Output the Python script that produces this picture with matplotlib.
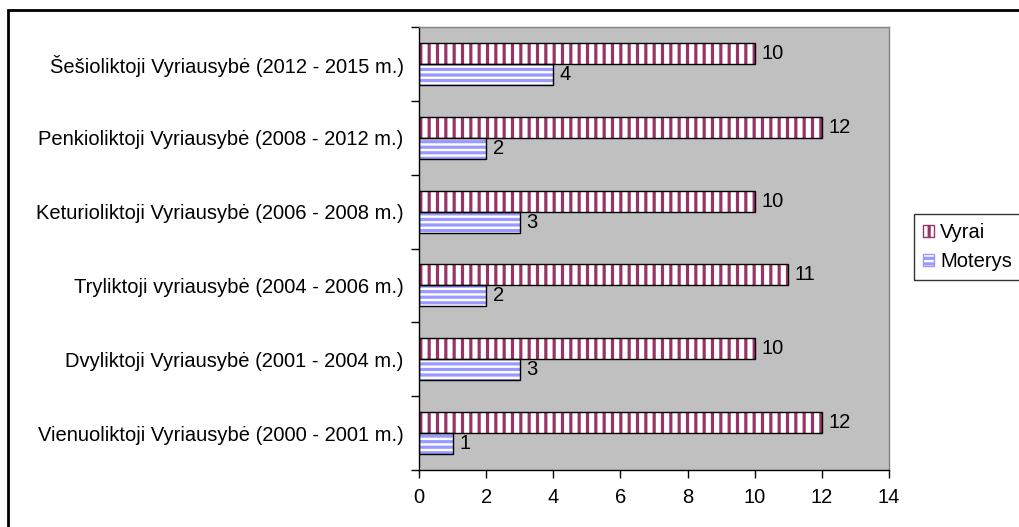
import matplotlib
matplotlib.use("Agg")
import matplotlib.pyplot as plt
from matplotlib.patches import Rectangle, Patch
import numpy as np

plt.rcParams['font.family'] = ['Liberation Sans', 'DejaVu Sans']
plt.rcParams['hatch.linewidth'] = 2.3

categories = [
    "Vienuoliktoji Vyriausybė (2000 - 2001 m.)",
    "Dvyliktoji Vyriausybė (2001 - 2004 m.)",
    "Tryliktoji vyriausybė (2004 - 2006 m.)",
    "Keturioliktoji Vyriausybė (2006 - 2008 m.)",
    "Penkioliktoji Vyriausybė (2008 - 2012 m.)",
    "Šešioliktoji Vyriausybė (2012 - 2015 m.)",
]
vyrai = [12, 10, 11, 10, 12, 10]
moterys = [1, 3, 2, 3, 2, 4]
xticks = [0, 2, 4, 6, 8, 10, 12, 14]

FS = 14.5
W, H = 1019, 527
fig = plt.figure(figsize=(W / 100, H / 100), dpi=100)
ax = fig.add_axes([419 / W, 1 - 470 / H, (889 - 419) / W, (470 - 27) / H])
ax.set_facecolor('#C0C0C0')

y = np.arange(len(categories))
bh = 0.285
ax.barh(y + bh / 2, vyrai, height=bh, color='white', edgecolor='#993366',
        hatch='||', linewidth=0)
ax.barh(y - bh / 2, moterys, height=bh, color='white', edgecolor='#9999FF',
        hatch='---', linewidth=0)
# black outlines
ax.barh(y + bh / 2, vyrai, height=bh, fill=False, edgecolor='black', linewidth=1)
ax.barh(y - bh / 2, moterys, height=bh, fill=False, edgecolor='black', linewidth=1)

for yi, v in zip(y, vyrai):
    ax.text(v + 0.2, yi + bh / 2, str(v), va='center', ha='left', fontsize=FS)
for yi, v in zip(y, moterys):
    ax.text(v + 0.2, yi - bh / 2, str(v), va='center', ha='left', fontsize=FS)

ax.set_xlim(0, 14)
ax.set_ylim(-0.5, len(categories) - 0.5)
ax.set_xticks(xticks)
ax.set_xticklabels([str(t) for t in xticks], fontsize=FS)
ax.set_yticks(y)
ax.set_yticklabels(categories, fontsize=FS)
ax.tick_params(axis='y', length=0, pad=11)
ax.set_yticks(np.arange(-0.5, len(categories)), minor=True)
ax.tick_params(axis='y', which='minor', length=6, width=1, direction='out')
ax.tick_params(axis='x', length=6, width=1, direction='out', pad=7)

for s in ['top', 'right']:
    ax.spines[s].set_color('#808080')
    ax.spines[s].set_linewidth(1)
for s in ['left', 'bottom']:
    ax.spines[s].set_color('black')
    ax.spines[s].set_linewidth(1)

handles = [Patch(facecolor='white', edgecolor='#993366', hatch='||', linewidth=0),
           Patch(facecolor='white', edgecolor='#9999FF', hatch='---', linewidth=0)]
leg = fig.legend(handles, ['Vyrai', 'Moterys'], loc='upper left',
                 bbox_to_anchor=(914 / W, 1 - 214 / H), frameon=True, fancybox=False,
                 edgecolor='black', fontsize=FS, handlelength=0.55, handleheight=0.55,
                 handletextpad=0.3, borderpad=0.45, labelspacing=0.5, borderaxespad=0)
leg.get_frame().set_linewidth(1)
for h in leg.legend_handles:
    h.set_linewidth(1)

# outer chart border
fig.patches.append(Rectangle((8 / W, -0.1), 1.2, 1 - 10 / H + 0.1, transform=fig.transFigure,
                             fill=False, edgecolor='black', linewidth=2, zorder=0))

fig.savefig('out.png', dpi=100)
